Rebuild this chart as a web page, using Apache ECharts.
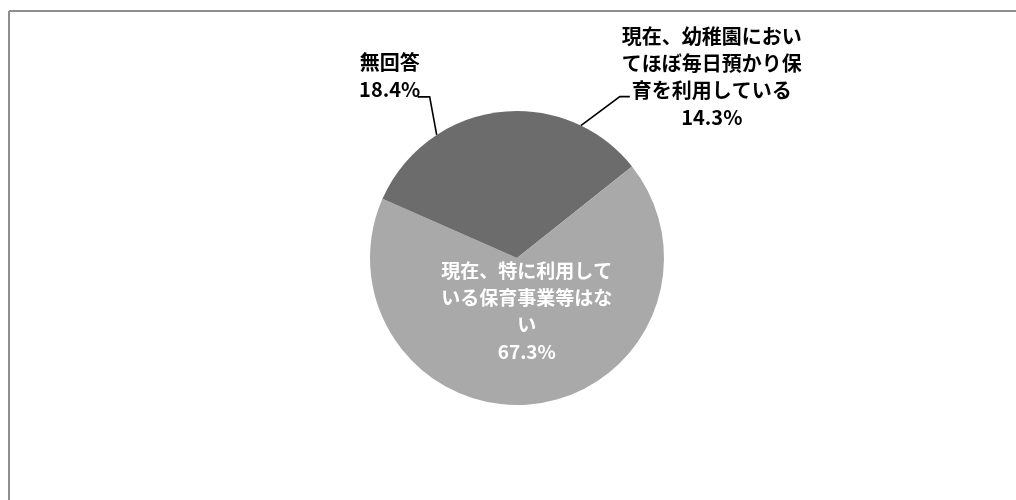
<!DOCTYPE html>
<html>
<head>
<meta charset="utf-8">
<script src="https://cdn.jsdelivr.net/npm/echarts@6/dist/echarts.min.js"></script>
<style>
html, body { margin: 0; padding: 0; background: #fff; }
#chart { width: 1016px; height: 500px; }
</style>
</head>
<body>
<div id="chart"></div>
<script>
// 項目と割合(%)
var names = [
	'現在、幼稚園においてほぼ毎日預かり保育を利用している',
	'現在、特に利用している保育事業等はない',
	'無回答'
];
var values = [14.3, 67.3, 18.4];
var colors = ['#6c6c6c', '#a9a9a9', '#6c6c6c'];

var myChart = echarts.init(document.getElementById('chart'));

var data = [];
for (var i = 0; i < names.length; i++) {
	data.push({ name: names[i], value: values[i], itemStyle: { color: colors[i] } });
}
// 内側ラベル
data[1].label = { position: 'inside', color: '#fff', fontSize: 19 };
data[1].labelLine = { show: false };

var font = '"Noto Sans CJK JP", sans-serif';

var option = {
	animation: false,
	graphic: [
		{ type: 'line', shape: { x1: 9, y1: 11, x2: 1016, y2: 11 }, style: { stroke: '#8e8e8e', lineWidth: 2 } },
		{ type: 'line', shape: { x1: 9, y1: 11, x2: 9, y2: 500 }, style: { stroke: '#8e8e8e', lineWidth: 2 } }
	],
	series: [{
		type: 'pie',
		center: [517, 258],
		radius: 147,
		startAngle: 90,
		clockwise: true,
		avoidLabelOverlap: false,
		data: data,
		itemStyle: { borderWidth: 0 },
		label: {
			show: true,
			formatter: '{b}\n{d}%',
			fontFamily: font,
			fontWeight: 'bold',
			fontSize: 20,
			lineHeight: 27,
			color: '#000',
			width: 190,
			overflow: 'break',
			align: 'center'
		},
		labelLine: {
			show: true,
			length: 20,
			length2: 10,
			lineStyle: { color: '#000', width: 1.6 }
		},
		labelLayout: function (p) {
			var a = p.labelLinePoints ? p.labelLinePoints[0] : null;
			if (p.dataIndex === 1) {
				return { dy: -23 };
			}
			if (!a) return {};
			if (p.dataIndex === 0) {
				return {
					x: a[0] + 131, y: a[1] - 49, align: 'center', verticalAlign: 'middle',
					labelLinePoints: [a, [a[0] + 39, a[1] - 29], [a[0] + 49, a[1] - 29]]
				};
			}
			return {
				x: a[0] - 47, y: a[1] - 59, align: 'center', verticalAlign: 'middle',
				labelLinePoints: [a, [a[0] - 7, a[1] - 38], [a[0] - 19, a[1] - 38]]
			};
		}
	}]
};
myChart.setOption(option);
</script>
</body>
</html>
